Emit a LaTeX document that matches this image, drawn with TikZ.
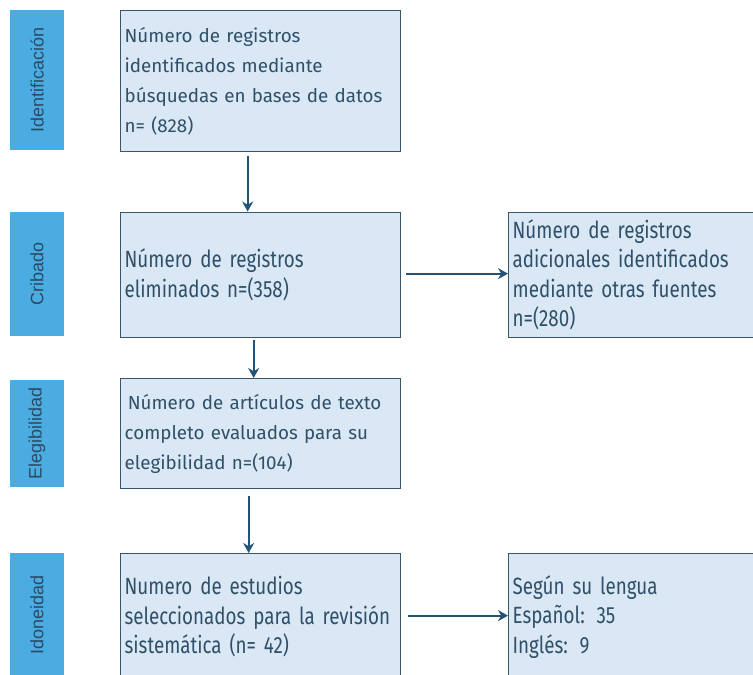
\documentclass[tikz,border=0pt]{standalone}
\usepackage{fontspec}
\setmainfont{Fira Sans}
\newfontfamily\condfont[FakeStretch=0.8]{Fira Sans}
\newfontfamily\sidefont{Liberation Sans}
\usetikzlibrary{arrows.meta}
\definecolor{boxfill}{HTML}{DAE8F5}
\definecolor{boxline}{HTML}{3A5566}
\definecolor{sidefill}{HTML}{4BACE2}
\definecolor{sidetext}{HTML}{2C4A63}
\definecolor{txt}{HTML}{2F5068}
\definecolor{arrcol}{HTML}{235478}
\tikzset{
  stepbox/.style={draw=boxline, line width=1.3pt, fill=boxfill, rectangle,
    inner sep=4pt, align=left, text=txt, anchor=north west},
  regtext/.style={font=\fontsize{18.8}{30}\selectfont},
  condtext/.style={font=\condfont\fontsize{23.5}{29.5}\selectfont},
  sidebox/.style={fill=sidefill, rectangle, rotate=90, inner sep=0pt,
    minimum height=54pt, text=sidetext, font=\sidefont\fontsize{18}{20}\selectfont},
  arr/.style={draw=arrcol, line width=2pt, -{Stealth[length=10pt,width=11pt]}}
}
\begin{document}
\begin{tikzpicture}[x=1pt,y=1pt]
\useasboundingbox (0,0) rectangle (753,-675);
% side labels
\node[sidebox, minimum width=140pt] (s1) at (37,-80) {Identificación};
\node[sidebox, minimum width=124pt] (s2) at (37,-274) {Cribado};
\node[sidebox, minimum width=107pt] (s3) at (37,-433.5) {Elegibilidad};
\node[sidebox, minimum width=124pt] (s4) at (37,-615) {Idoneidad};
% boxes
\node[stepbox, regtext, minimum width=280pt, minimum height=141pt, text width=272pt] (b1) at (120,-10)
  {Número de registros\\identificados mediante\\búsquedas en bases de datos\\n= (828)};
\node[stepbox, condtext, minimum width=280pt, minimum height=125pt, text width=272pt] (b2) at (120,-211.5)
  {Número de registros\\eliminados n=(358)};
\node[stepbox, condtext, minimum width=250pt, minimum height=125pt, text width=242pt] (b3) at (508,-211.5)
  {Número de registros\\adicionales identificados\\mediante otras fuentes\\n=(280)};
\node[stepbox, regtext, minimum width=280pt, minimum height=110pt, text width=272pt] (b4) at (120,-378)
  {\,Número de artículos de texto\\completo evaluados para su\\elegibilidad n=(104)};
\node[stepbox, condtext, minimum width=280pt, minimum height=126pt, text width=272pt] (b5) at (120,-553)
  {Numero de estudios\\seleccionados para la revisión\\sistemática (n= 42)};
\node[stepbox, condtext, minimum width=250pt, minimum height=126pt, text width=242pt] (b6) at (508,-553)
  {Según su lengua\\Español: 35\\Inglés: 9};
% connectors
\draw[arr] ([xshift=-13pt,yshift=-4pt]b1.south) -- ([xshift=-13pt]b2.north);
\draw[arr] ([xshift=5pt,yshift=1pt]b2.east) -- ([yshift=1pt]b3.west);
\draw[arr] ([xshift=-7pt,yshift=-2pt]b2.south) -- ([xshift=-7pt]b4.north);
\draw[arr] ([xshift=-12pt,yshift=-7pt]b4.south) -- ([xshift=-12pt]b5.north);
\draw[arr] ([xshift=7pt,yshift=1pt]b5.east) -- ([yshift=1pt]b6.west);
\end{tikzpicture}
\end{document}
